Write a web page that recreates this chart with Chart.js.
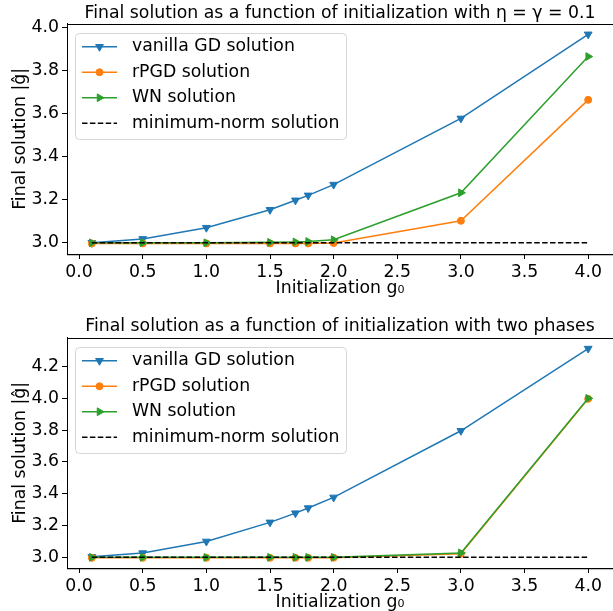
<!DOCTYPE html>
<html>
<head>
<meta charset="utf-8">
<script src="https://cdn.jsdelivr.net/npm/chart.js@4.4.0/dist/chart.umd.min.js"></script>
<style>
  html, body { margin: 0; padding: 0; background: #fff; overflow: hidden; }
  #wrap { position: relative; width: 613px; height: 611px; }
  .box { position: absolute; left: 0; width: 613px; }
</style>
</head>
<body>
<div id="wrap">
  <div class="box" style="top:0;height:305px"><canvas id="topChart"></canvas></div>
  <div class="box" style="top:305px;height:306px"><canvas id="bottomChart"></canvas></div>
</div>
<script>
// initializations g0 (shared by both panels)
const initValues = [0.1, 0.5, 1.0, 1.5, 1.7, 1.8, 2.0, 3.0, 4.0];
const xTicks = [0.0, 0.5, 1.0, 1.5, 2.0, 2.5, 3.0, 3.5, 4.0];

// panel 1: eta = gamma = 0.1
const gdTop   = [3.000, 3.018, 3.070, 3.153, 3.197, 3.220, 3.270, 3.577, 3.967];
const rpgdTop = [2.997, 2.997, 2.997, 2.997, 2.997, 2.997, 2.999, 3.102, 3.663];
const wnTop   = [3.000, 3.000, 3.000, 3.002, 3.004, 3.006, 3.014, 3.232, 3.864];
const yTicksTop = [3.0, 3.2, 3.4, 3.6, 3.8, 4.0];

// panel 2: two phases
const gdBottom   = [3.003, 3.027, 3.100, 3.220, 3.278, 3.310, 3.377, 3.796, 4.313];
const rpgdBottom = [2.997, 2.997, 2.997, 2.997, 2.997, 2.997, 2.998, 3.022, 3.997];
const wnBottom   = [3.000, 3.000, 3.000, 3.000, 3.000, 3.000, 3.000, 3.028, 4.000];
const yTicksBottom = [3.0, 3.2, 3.4, 3.6, 3.8, 4.0, 4.2];

const minNorm = [3.0, 3.0, 3.0, 3.0, 3.0, 3.0, 3.0, 3.0, 3.0];

const FONT_SIZE = 17.3;
Chart.defaults.font.family = 'DejaVu Sans';
Chart.defaults.font.size = FONT_SIZE;
Chart.defaults.color = '#000';

function toPoints(values) {
    return initValues.map((x, i) => ({ x: x, y: values[i] }));
}

// box round the axes (top spine, like matplotlib)
const framePlugin = {
    id: 'frame',
    afterDatasetsDraw(chart) {
        const { ctx, chartArea: a } = chart;
        ctx.save();
        ctx.strokeStyle = '#000';
        ctx.lineWidth = 1;
        ctx.strokeRect(Math.round(a.left) + 0.5, Math.round(a.top) + 0.5, a.right - a.left, a.bottom - a.top);
        ctx.restore();
    }
};

// legend drawn inside the plot, upper left
const innerLegend = {
    id: 'innerLegend',
    afterDraw(chart) {
        const { ctx, chartArea: a } = chart;
        const x0 = Math.round(a.left) + 8, y0 = Math.round(a.top) + 9;
        ctx.save();
        ctx.beginPath();
        ctx.roundRect(x0 + 0.5, y0 + 0.5, 271, 106, 4);
        ctx.fillStyle = 'rgba(255,255,255,0.8)';
        ctx.fill();
        ctx.strokeStyle = 'rgba(204,204,204,0.8)';
        ctx.lineWidth = 1;
        ctx.stroke();
        chart.data.datasets.forEach((ds, i) => {
            const y = a.top + 23 + i * 25.5;
            ctx.beginPath();
            ctx.setLineDash(ds.borderDash || []);
            ctx.strokeStyle = ds.borderColor;
            ctx.lineWidth = ds.borderWidth;
            ctx.moveTo(a.left + 15, y);
            ctx.lineTo(a.left + 50, y);
            ctx.stroke();
            ctx.setLineDash([]);
            if (ds.pointRadius > 0) {
                ctx.fillStyle = ds.pointBackgroundColor;
                ctx.strokeStyle = ds.pointBorderColor;
                ctx.lineWidth = 1;
                Chart.helpers.drawPoint(ctx, {
                    pointStyle: ds.pointStyle,
                    rotation: ds.pointRotation || 0,
                    radius: ds.pointRadius,
                    borderWidth: 1
                }, a.left + 32.5, y);
            }
            ctx.fillStyle = '#000';
            ctx.font = FONT_SIZE + 'px "DejaVu Sans"';
            ctx.textAlign = 'left';
            ctx.textBaseline = 'middle';
            ctx.fillText(ds.label, a.left + 65, y);
        });
        ctx.restore();
    }
};

function makeChart(canvasId, titleText, gd, rpgd, wn, yMin, yMax, yTicks, titlePad, xAxisHeight, xTitlePad) {
    const ctx = document.getElementById(canvasId).getContext('2d');
    return new Chart(ctx, {
        type: 'line',
        data: {
            datasets: [{
                label: 'vanilla GD solution',
                data: toPoints(gd),
                borderColor: '#1f77b4',
                borderWidth: 1.5,
                pointStyle: 'triangle',
                pointRotation: 180,
                pointRadius: 4.5,
                pointBackgroundColor: '#1f77b4',
                pointBorderColor: '#1f77b4',
                pointBorderWidth: 1,
                order: 4
            }, {
                label: 'rPGD solution',
                data: toPoints(rpgd),
                borderColor: '#ff7f0e',
                borderWidth: 1.5,
                pointStyle: 'circle',
                pointRadius: 3.5,
                pointBackgroundColor: '#ff7f0e',
                pointBorderColor: '#ff7f0e',
                pointBorderWidth: 1,
                order: 3
            }, {
                label: 'WN solution',
                data: toPoints(wn),
                borderColor: '#2ca02c',
                borderWidth: 1.5,
                pointStyle: 'triangle',
                pointRotation: 90,
                pointRadius: 4.5,
                pointBackgroundColor: '#2ca02c',
                pointBorderColor: '#2ca02c',
                pointBorderWidth: 1,
                order: 2
            }, {
                label: 'minimum-norm solution',
                data: toPoints(minNorm),
                borderColor: '#000',
                borderWidth: 1.5,
                borderDash: [5.5, 2.4],
                pointRadius: 0,
                order: 1
            }]
        },
        options: {
            responsive: true,
            maintainAspectRatio: false,
            animation: false,
            layout: { autoPadding: false, padding: { left: 0, right: 0, top: 0, bottom: 0 } },
            elements: { line: { tension: 0, fill: false } },
            plugins: {
                legend: { display: false },
                tooltip: { enabled: false },
                title: {
                    display: true,
                    fullSize: false,
                    text: titleText,
                    color: '#000',
                    font: { size: FONT_SIZE, weight: 'normal' },
                    padding: titlePad
                }
            },
            scales: {
                x: {
                    type: 'linear',
                    min: -0.095,
                    max: 4.195,
                    afterBuildTicks: axis => { axis.ticks = xTicks.map(v => ({ value: v })); },
                    afterFit: axis => {
                        axis.height = xAxisHeight;
                        axis.paddingLeft = 0;
                        axis.paddingRight = 0;
                    },
                    grid: { drawOnChartArea: false, tickLength: 5, tickColor: '#000', tickWidth: 1 },
                    border: { color: '#000', width: 1 },
                    ticks: { color: '#000', padding: 3, maxRotation: 0, autoSkip: false, callback: v => v.toFixed(1) },
                    title: { display: true, text: 'Initialization g₀', color: '#000', padding: { top: 0, bottom: xTitlePad } }
                },
                y: {
                    type: 'linear',
                    min: yMin,
                    max: yMax,
                    afterBuildTicks: axis => { axis.ticks = yTicks.map(v => ({ value: v })); },
                    afterFit: axis => {
                        axis.width = 67;
                        axis.paddingTop = 0;
                        axis.paddingBottom = 0;
                    },
                    grid: { drawOnChartArea: false, tickLength: 5, tickColor: '#000', tickWidth: 1 },
                    border: { color: '#000', width: 1 },
                    ticks: { color: '#000', padding: 3, autoSkip: false, callback: v => v.toFixed(1) },
                    title: { display: true, text: 'Final solution |ĝ|', color: '#000', padding: { top: 10, bottom: 0 } }
                }
            }
        },
        plugins: [framePlugin, innerLegend]
    });
}

makeChart('topChart', 'Final solution as a function of initialization with η = γ = 0.1',
    gdTop, rpgdTop, wnTop, 2.948, 4.016, yTicksTop, { top: 3, bottom: 0 }, 51, 6);
makeChart('bottomChart', 'Final solution as a function of initialization with two phases',
    gdBottom, rpgdBottom, wnBottom, 2.933, 4.381, yTicksBottom, { top: 11, bottom: 1 }, 43, -2);
</script>
</body>
</html>
